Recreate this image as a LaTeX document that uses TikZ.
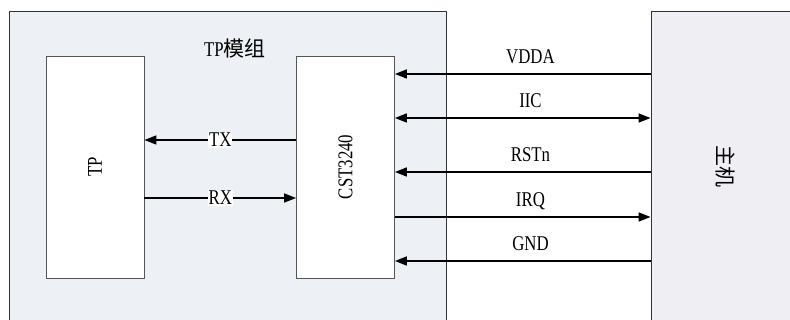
\documentclass[tikz,border=0pt]{standalone}
\usepackage{fontspec}
\setmainfont{Liberation Serif}[FakeStretch=0.8]
\newfontfamily\cjk{Noto Sans CJK SC}
\usetikzlibrary{arrows.meta}
\definecolor{modfill}{HTML}{EDF0F5}
\definecolor{hostfill}{HTML}{EFEEF3}
\definecolor{boxline}{HTML}{555555}
\tikzset{
  x=1pt, y=-1pt,
  region/.style={draw=black!80, line width=0.8pt, inner sep=0pt},
  block/.style={draw=boxline, line width=0.9pt, fill=white, minimum width=98pt, minimum height=222pt, inner sep=0pt},
  txt/.style={font=\fontsize{21}{21}\selectfont},
  sig/.style={line width=1.6pt, {Triangle[length=12pt,width=9pt]}-{Triangle[length=12pt,width=9pt]}},
  sigl/.style={line width=1.6pt, {Triangle[length=12pt,width=9pt]}-},
  sigr/.style={line width=1.6pt, -{Triangle[length=12pt,width=9pt]}},
  lbl/.style={txt, anchor=base, yshift=10pt, inner sep=0pt},
  wlbl/.style={txt, fill=white, inner sep=1pt}
}
\begin{document}
\begin{tikzpicture}
\useasboundingbox (0,0) rectangle (790,320);
\clip (0,0) rectangle (790,320);
\fill[white] (0,0) rectangle (790,320);
\node[region, fill=modfill, minimum width=437pt, minimum height=319pt] (mod) at (227.5,170.5) {};
\node[region, fill=hostfill, minimum width=149pt, minimum height=319pt] (host) at (725.5,170.5) {};
\node[txt] (modlbl) at (235,49) {TP{\cjk 模组}};
\node[block] (tp) at (95,167) {};
\node[block] (cst) at (345.5,167) {};
\node[txt, rotate=90] (tplbl) at (tp.center) {TP};
\node[txt, rotate=90] (cstlbl) at (cst.center) {CST3240};
\node[txt, rotate=-90] (hostlbl) at (725,167) {\cjk 主机};
% TX / RX
\draw[sigr] (cst.west |- 0,140) -- node[wlbl] {TX} (tp.east |- 0,140);
\draw[sigr] (tp.east |- 0,198) -- node[wlbl] {RX} (cst.west |- 0,198);
% host signals
\draw[sigl] (cst.east |- 0,74) -- node[lbl, pos=0.53] {VDDA} (host.west |- 0,74);
\draw[sig] (cst.east |- 0,118) -- node[lbl, pos=0.53] {IIC} (host.west |- 0,118);
\draw[sigl] (cst.east |- 0,172) -- node[lbl, pos=0.53] {RSTn} (host.west |- 0,172);
\draw[sigr] (cst.east |- 0,217) -- node[lbl, pos=0.53] {IRQ} (host.west |- 0,217);
\draw[sigl] (cst.east |- 0,261) -- node[lbl, pos=0.53] {GND} (host.west |- 0,261);
\end{tikzpicture}
\end{document}
